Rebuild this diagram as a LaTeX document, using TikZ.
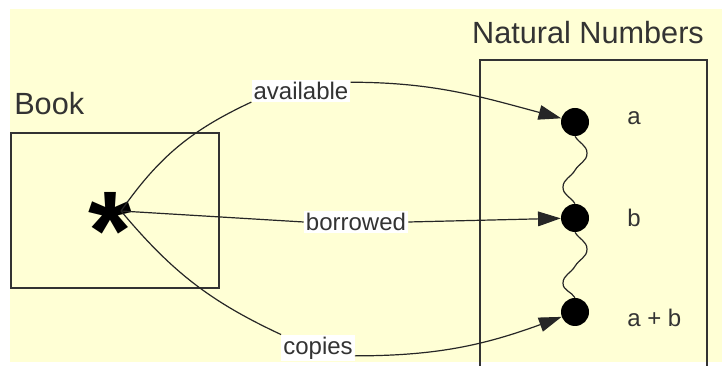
\documentclass[tikz,border=0pt]{standalone}
\usepackage{fontspec}
\setsansfont{Liberation Sans}
\usetikzlibrary{arrows.meta, positioning}
\definecolor{PaleYellow}{HTML}{FFFFD5}
\definecolor{InkGray}{HTML}{333333}
\tikzset{every picture/.style={/utils/exec={\sffamily}}}

\begin{document}
\begin{tikzpicture}[x=0.75pt,y=-0.75pt,
			title/.style={inner sep=0pt,text=InkGray,font=\fontsize{23}{26}\selectfont},
			frame/.style={draw=InkGray,line width=1.1pt,rectangle,inner sep=0pt},
			tag/.style={fill=white,text=InkGray,inner sep=1.5pt,font=\fontsize{18}{20}\selectfont},
			dot/.style={circle,fill=black,inner sep=0pt,minimum size=21pt},
			val/.style={anchor=west,inner sep=0pt,text=InkGray,font=\fontsize{18}{20}\selectfont},
			link/.style={draw=black!85,line width=0.9pt},
			tip/.style={-{Triangle[length=17pt,width=11pt]}}
		]
			\useasboundingbox (0,0) rectangle (722,366);
			\clip (0,0) rectangle (722,366);
			\fill[PaleYellow] (10,9) rectangle (722,362);
			% the two sets
			\node at (115,210.5) [frame,minimum width=156pt,minimum height=116pt] (boxBook) {};
			\node at (14,104) [title,anchor=west] (legBook) {Book};
			\node at (593.5,230) [frame,minimum width=170pt,minimum height=255pt] (boxNat) {};
			\node at (588,33) [title] (legNat) {Natural Numbers};
			% the book
			\node at (110,270) [anchor=base,inner sep=0pt,font=\fontsize{84}{84}\selectfont\bfseries] (star) {*};
			\coordinate (hub) at (121,211);
			% the numbers
			\node at (575,122) [dot] (ndA) {};
			\node at (575,218) [dot] (ndB) {};
			\node at (575,312) [dot] (ndC) {};
			\node at (627,118) [val] (valA) {a};
			\node at (627,218) [val] (valB) {b};
			\node at (627,318) [val] (valC) {a + b};
			\draw[link] (ndA.south) to[out=-60,in=90] ++(12,17) to[out=-90,in=60] ++(-12,17)
				to[out=-120,in=90] ++(-12,17) to[out=-90,in=120] (ndB.north);
			\draw[link] (ndB.south) to[out=-60,in=90] ++(12,17) to[out=-90,in=60] ++(-12,17)
				to[out=-120,in=90] ++(-12,17) to[out=-90,in=120] (ndC.north);
			% the attributes
			\node at (301,91) [tag] (avail) {available};
			\node at (356,222) [tag] (borr) {borrowed};
			\node at (318,348) [tag] (cop) {copies};
			\draw[link] (hub) to[out=55,in=205] (avail.south west);
			\draw[link,tip] (avail.10) to[out=0,in=165] (ndA);
			\draw[link] (hub) -- (borr.west);
			\draw[link,tip] (borr.east) -- (ndB);
			\draw[link] (hub) to[out=-50,in=155] (cop.north west);
			\draw[link,tip] (cop.-12) to[out=0,in=200] (ndC);
		\end{tikzpicture}
\end{document}
